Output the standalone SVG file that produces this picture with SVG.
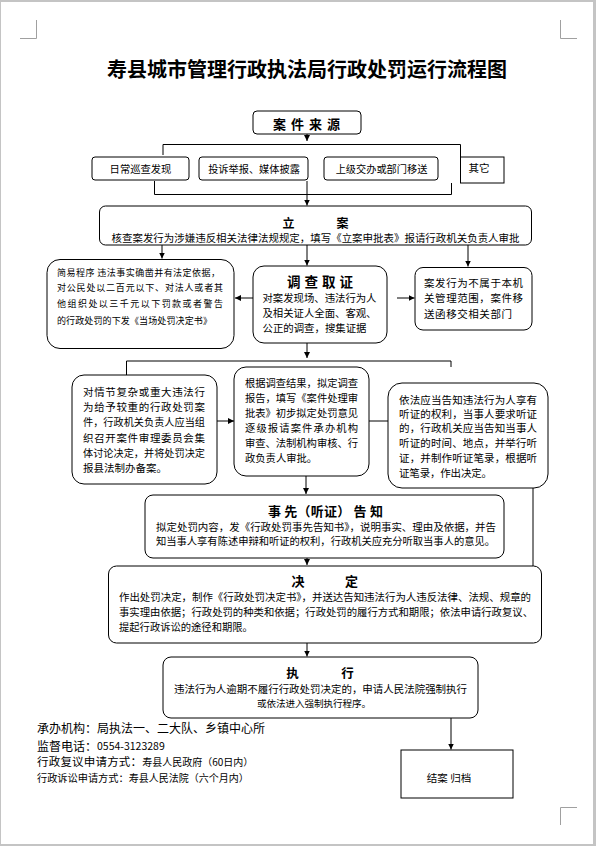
<svg xmlns="http://www.w3.org/2000/svg" width="596" height="846" viewBox="0 0 596 846">
<style>
.bx{fill:#fff;stroke:#000;stroke-width:1}
.t{font-family:"Noto Sans CJK SC","Liberation Sans",sans-serif;fill:#000;dominant-baseline:central}
.h{font-weight:bold}
.c{stroke:#000;stroke-width:1;fill:none}
.a{marker-end:url(#ar)}
.m{stroke:#a0a0a0;stroke-width:1;fill:none}
</style>
<defs>
<marker id="ar" markerUnits="userSpaceOnUse" markerWidth="7" markerHeight="7" refX="6" refY="3" orient="auto">
<path d="M0,0 L6,3 L0,6 z" fill="#000"/>
</marker>
</defs>
<rect x="0" y="0" width="596" height="846" fill="#c4c4c4"/>
<rect x="1" y="2" width="592" height="842" fill="#fff"/>
<g id="marks">
<path class="m" d="M20,38.5 H36.5 V20"/>
<path class="m" d="M577,38.5 H560.5 V20"/>
<path class="m" d="M577,807.5 H560.5 V825"/>
</g>
<g id="title"><text class="t h" x="307" y="68" font-size="20" text-anchor="middle">寿县城市管理行政执法局行政处罚运行流程图</text></g>

<g id="connectors">
<path class="c a" d="M307,134 V141"/>
<path class="c" d="M163,155 V144.5 H460.5 V157"/>
<path class="c" d="M154.5,181 V194.5 H451.5 V183"/>
<path class="c a" d="M307,181 V205.5"/>
<path class="c a" d="M162,245 V258.5"/>
<path class="c a" d="M307,245 V265.5"/>
<path class="c a" d="M468,245 V266.5"/>
<path class="c a" d="M253,298 H235"/>
<path class="c a" d="M397,298 H414.5"/>
<path class="c a" d="M307,343 V358"/>
<path class="c" d="M126.5,375 V361 H451 V367"/>
<path class="c a" d="M217,421 H234"/>
<path class="c a" d="M388,421 H362"/>
<path class="c a" d="M306,476 V494"/>
<path class="c a" d="M533,488 V579"/>
<path class="c a" d="M307,558 V565"/>
<path class="c a" d="M307,643 V656.5"/>
<path class="c a" d="M451,718 V749.5"/>
</g>

<g id="n_source">
<rect class="bx" x="253" y="111" width="108" height="23" rx="4"/>
<text class="t h" x="273" y="123" font-size="13" textLength="67" lengthAdjust="spacing">案 件 来 源</text>
</g>
<g id="n_src1">
<rect class="bx" x="92" y="157" width="97" height="23" rx="3"/>
<text class="t" x="140.5" y="168.5" font-size="10.3" text-anchor="middle">日常巡查发现</text>
</g>
<g id="n_src2">
<rect class="bx" x="199" y="157" width="109" height="23" rx="3"/>
<text class="t" x="254" y="168.5" font-size="10.2" text-anchor="middle">投诉举报、媒体披露</text>
</g>
<g id="n_src3">
<rect class="bx" x="324" y="157" width="114" height="23" rx="3"/>
<text class="t" x="381.5" y="168.5" font-size="10.2" text-anchor="middle">上级交办或部门移送</text>
</g>
<g id="n_src4">
<rect class="bx" x="460.5" y="157" width="43.5" height="26"/>
<text class="t" x="479" y="167" font-size="10.5" text-anchor="middle">其它</text>
</g>

<g id="n_lian">
<rect class="bx" x="99.5" y="206" width="432" height="39" rx="6"/>
<text class="t h" x="288.5" y="222" font-size="12" text-anchor="middle">立</text>
<text class="t h" x="342.5" y="222" font-size="12" text-anchor="middle">案</text>
<text class="t" x="111.5" y="237" font-size="10" textLength="408" lengthAdjust="spacingAndGlyphs">核查案发行为涉嫌违反相关法律法规规定，填写《立案申批表》报请行政机关负责人审批</text>
</g>

<g id="n_simple">
<rect class="bx" x="47" y="259.5" width="187" height="89" rx="13"/>
<text class="t" x="57" y="272" font-size="9" textLength="163" lengthAdjust="spacing">简易程序 违法事实确凿并有法定依据，</text>
<text class="t" x="57" y="287.5" font-size="9" textLength="166" lengthAdjust="spacing">对公民处以二百元以下、对法人或者其</text>
<text class="t" x="57" y="303" font-size="9" textLength="166" lengthAdjust="spacing">他组织处以三千元以下罚款或者警告</text>
<text class="t" x="57" y="320.5" font-size="9" textLength="155" lengthAdjust="spacing">的行政处罚的下发《当场处罚决定书》</text>
</g>

<g id="n_investigate">
<rect class="bx" x="253" y="266" width="134" height="77" rx="11"/>
<text class="t h" x="287" y="281" font-size="13.5" textLength="66" lengthAdjust="spacing">调 查 取 证</text>
<text class="t" x="262.5" y="297.5" font-size="10.4" textLength="114" lengthAdjust="spacing">对案发现场、违法行为人</text>
<text class="t" x="262.5" y="312.5" font-size="10.4" textLength="114" lengthAdjust="spacing">及相关证人全面、客观、</text>
<text class="t" x="262.5" y="327.5" font-size="10.4" textLength="104" lengthAdjust="spacing">公正的调查，搜集证据</text>
</g>

<g id="n_transfer">
<rect class="bx" x="415" y="267.5" width="117" height="62.5" rx="8"/>
<text class="t" x="424" y="282" font-size="10.5" textLength="99" lengthAdjust="spacing">案发行为不属于本机</text>
<text class="t" x="424" y="297.5" font-size="10.5" textLength="99" lengthAdjust="spacing">关管理范围，案件移</text>
<text class="t" x="424" y="313" font-size="10.5" textLength="88" lengthAdjust="spacing">送函移交相关部门</text>
</g>

<g id="n_complex">
<rect class="bx" x="72" y="375" width="145" height="109" rx="12"/>
<text class="t" x="83" y="391" font-size="10.5" textLength="122" lengthAdjust="spacing">对情节复杂或重大违法行</text>
<text class="t" x="83" y="406.5" font-size="10.5" textLength="122" lengthAdjust="spacing">为给予较重的行政处罚案</text>
<text class="t" x="83" y="421.5" font-size="10.5" textLength="122" lengthAdjust="spacingAndGlyphs">件，行政机关负责人应当组</text>
<text class="t" x="83" y="437" font-size="10.5" textLength="122" lengthAdjust="spacing">织召开案件审理委员会集</text>
<text class="t" x="83" y="452.5" font-size="10.5" textLength="122" lengthAdjust="spacingAndGlyphs">体讨论决定，并将处罚决定</text>
<text class="t" x="83" y="467.5" font-size="10.5">报县法制办备案。</text>
</g>

<g id="n_report">
<rect class="bx" x="234" y="367" width="135" height="109" rx="12"/>
<text class="t" x="245" y="382.5" font-size="10.3" textLength="113" lengthAdjust="spacing">根据调查结果，拟定调查</text>
<text class="t" x="245" y="397.5" font-size="10.3" textLength="113" lengthAdjust="spacing">报告，填写《案件处理审</text>
<text class="t" x="245" y="412" font-size="10.3" textLength="113" lengthAdjust="spacing">批表》初步拟定处罚意见</text>
<text class="t" x="245" y="427" font-size="10.3" textLength="113" lengthAdjust="spacing">逐级报请案件承办机构</text>
<text class="t" x="245" y="442" font-size="10.3" textLength="113" lengthAdjust="spacing">审查、法制机构审核、行</text>
<text class="t" x="245" y="457" font-size="10.3">政负责人审批。</text>
</g>

<g id="n_hearing">
<rect class="bx" x="388" y="383" width="160" height="105" rx="14"/>
<text class="t" x="399" y="399" font-size="10.5" textLength="138" lengthAdjust="spacing">依法应当告知违法行为人享有</text>
<text class="t" x="399" y="413" font-size="10.5" textLength="138" lengthAdjust="spacing">听证的权利，当事人要求听证</text>
<text class="t" x="399" y="427.5" font-size="10.5" textLength="138" lengthAdjust="spacing">的，行政机关应当告知当事人</text>
<text class="t" x="399" y="442.5" font-size="10.5" textLength="138" lengthAdjust="spacing">听证的时间、地点，并举行听</text>
<text class="t" x="399" y="457.5" font-size="10.5" textLength="138" lengthAdjust="spacing">证，并制作听证笔录，根据听</text>
<text class="t" x="399" y="472.5" font-size="10.5" textLength="93" lengthAdjust="spacing">证笔录，作出决定。</text>
</g>

<g id="n_notice">
<rect class="bx" x="145" y="495" width="359" height="63" rx="8"/>
<text class="t h" x="268" y="510" font-size="13" textLength="115" lengthAdjust="spacing">事 先（听证） 告 知</text>
<text class="t" x="156" y="526" font-size="10.2" textLength="340" lengthAdjust="spacingAndGlyphs">拟定处罚内容，发《行政处罚事先告知书》，说明事实、理由及依据，并告</text>
<text class="t" x="156" y="540" font-size="10.2" textLength="339" lengthAdjust="spacingAndGlyphs">知当事人享有陈述申辩和听证的权利，行政机关应充分听取当事人的意见。</text>
</g>

<g id="n_decision">
<rect class="bx" x="108.5" y="566" width="433" height="77" rx="8"/>
<text class="t h" x="298" y="580" font-size="13" text-anchor="middle">决</text>
<text class="t h" x="351.5" y="580" font-size="13" text-anchor="middle">定</text>
<text class="t" x="119" y="596" font-size="10.3" textLength="412" lengthAdjust="spacingAndGlyphs">作出处罚决定，制作《行政处罚决定书》，并送达告知违法行为人违反法律、法规、规章的</text>
<text class="t" x="119" y="611" font-size="10.3" textLength="414" lengthAdjust="spacingAndGlyphs">事实理由依据；行政处罚的种类和依据；行政处罚的履行方式和期限；依法申请行政复议、</text>
<text class="t" x="119" y="626" font-size="10.3">提起行政诉讼的途径和期限。</text>
</g>

<g id="n_execute">
<rect class="bx" x="163" y="657" width="315" height="61" rx="8"/>
<text class="t h" x="292.5" y="672.5" font-size="12.5" text-anchor="middle">执</text>
<text class="t h" x="347.5" y="672.5" font-size="12.5" text-anchor="middle">行</text>
<text class="t" x="174" y="688" font-size="10.2" textLength="293" lengthAdjust="spacingAndGlyphs">违法行为人逾期不履行行政处罚决定的，申请人民法院强制执行</text>
<text class="t" x="257" y="703" font-size="9.6" textLength="114" lengthAdjust="spacing">或依法进入强制执行程序。</text>
</g>

<g id="n_close">
<rect class="bx" x="401" y="750" width="112" height="48"/>
<text class="t" x="449" y="777" font-size="10.5" text-anchor="middle">结案 归档</text>
</g>

<g id="footer">
<text class="t" x="37" y="727" font-size="12" textLength="228" lengthAdjust="spacing">承办机构：局执法一、二大队、乡镇中心所</text>
<text class="t" x="37" y="744.5" font-size="12"><tspan>监督电话：</tspan><tspan font-size="10.5">0554-3123289</tspan></text>
<text class="t" x="37" y="760.5" font-size="11.5"><tspan textLength="105" lengthAdjust="spacing">行政复议申请方式：</tspan><tspan font-size="10">寿县人民政府（60日内）</tspan></text>
<text class="t" x="37" y="776.5" font-size="10.2"><tspan>行政诉讼申请方式：</tspan><tspan font-size="10">寿县人民法院（六个月内）</tspan></text>
</g>
</svg>
